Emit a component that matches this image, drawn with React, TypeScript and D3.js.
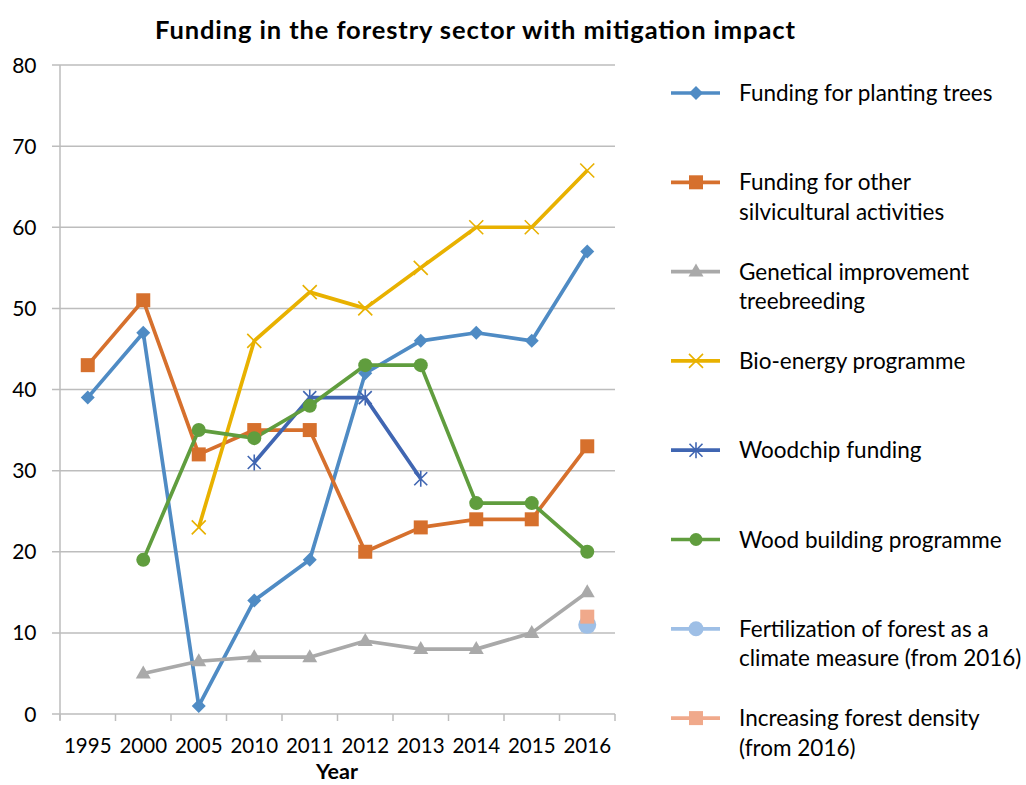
import React from "react";
import * as d3 from "d3";

const years = ["1995", "2000", "2005", "2010", "2011", "2012", "2013", "2014", "2015", "2016"];
const yTicks = [0, 10, 20, 30, 40, 50, 60, 70, 80];

const plantingTrees = [39, 47, 1, 14, 19, 42, 46, 47, 46, 57];
const otherSilvi = [43, 51, 32, 35, 35, 20, 23, 24, 24, 33];
const genetical = [null, 5, 6.5, 7, 7, 9, 8, 8, 10, 15];
const bioEnergy = [null, null, 23, 46, 52, 50, 55, 60, 60, 67];
const woodchip = [null, null, null, 31, 39, 39, 29, null, null, null];
const woodBuilding = [null, 19, 35, 34, 38, 43, 43, 26, 26, 20];
const fertilization = [null, null, null, null, null, null, null, null, null, 11];
const forestDensity = [null, null, null, null, null, null, null, null, null, 12];

type Series = { name: string[]; values: (number | null)[]; color: string; marker: string };

const series: Series[] = [
  { name: ["Funding for planting trees"], values: plantingTrees, color: "#4F8BC4", marker: "diamond" },
  { name: ["Funding for other", "silvicultural activities"], values: otherSilvi, color: "#D6702D", marker: "square" },
  { name: ["Genetical improvement", "treebreeding"], values: genetical, color: "#A9A9A9", marker: "triangle" },
  { name: ["Bio-energy programme"], values: bioEnergy, color: "#E8B100", marker: "x" },
  { name: ["Woodchip funding"], values: woodchip, color: "#4066B2", marker: "star" },
  { name: ["Wood building programme"], values: woodBuilding, color: "#609D3E", marker: "circle" },
  { name: ["Fertilization of forest as a", "climate measure (from 2016)"], values: fertilization, color: "#9EBFE6", marker: "bigcircle" },
  { name: ["Increasing forest density", "(from 2016)"], values: forestDensity, color: "#F0A98B", marker: "square" },
];

const FONT = "Lato, 'Open Sans', sans-serif";

function Marker({ type, x, y, color, legend }: { type: string; x: number; y: number; color: string; legend?: boolean }) {
  switch (type) {
    case "diamond":
      return <path d={`M${x},${y - 7}L${x + 7},${y}L${x},${y + 7}L${x - 7},${y}Z`} fill={color} />;
    case "square":
      return <rect x={x - 7} y={y - 7} width={14} height={14} fill={color} />;
    case "triangle":
      return <path d={`M${x},${y - 8}L${x + 7.5},${y + 5}L${x - 7.5},${y + 5}Z`} fill={color} />;
    case "x":
      return (
        <path d={`M${x - 7},${y - 7}L${x + 7},${y + 7}M${x + 7},${y - 7}L${x - 7},${y + 7}`} stroke={color} strokeWidth={1.6} fill="none" />
      );
    case "star":
      return (
        <path
          d={`M${x - 6.5},${y - 6.5}L${x + 6.5},${y + 6.5}M${x + 6.5},${y - 6.5}L${x - 6.5},${y + 6.5}M${x},${y - 8}L${x},${y + 8}`}
          stroke={color}
          strokeWidth={1.6}
          fill="none"
        />
      );
    case "circle":
      return <circle cx={x} cy={y} r={legend ? 6.5 : 7} fill={color} />;
    case "bigcircle":
      return <circle cx={x} cy={y} r={legend ? 7.5 : 9} fill={color} />;
    default:
      return null;
  }
}

export default function App() {
  const W = 1026;
  const H = 785;
  const left = 60;
  const right = 615;
  const top = 65;
  const bottom = 714;

  const x = d3.scaleBand<string>().domain(years).range([left, right]).padding(0);
  const y = d3.scaleLinear().domain([0, 80]).range([bottom, top]);
  const cx = (i: number) => (x(years[i]) as number) + x.bandwidth() / 2;

  const line = d3
    .line<number | null>()
    .defined((d) => d !== null)
    .x((_, i) => cx(i))
    .y((d) => y(d as number));

  const boundaries = years.map((yr) => x(yr) as number).concat([right]);

  const legendX = 671;
  const legendY0 = 93;
  const legendStep = 89.3;

  return (
    <svg width={W} height={H} style={{ position: "absolute", left: 0, top: 0, background: "#fff" }} fontFamily={FONT}>
      <rect width={W} height={H} fill="#fff" />
      <text x={155} y={38.5} fontWeight="bold" fontSize={25.5} fill="#000" textLength={640} lengthAdjust="spacing">
        Funding in the forestry sector with mitigation impact
      </text>
      {/* gridlines */}
      {yTicks.map((t) => (
        <line key={t} x1={left - 8} x2={right} y1={y(t)} y2={y(t)} stroke="#BDBDBD" strokeWidth={1.5} />
      ))}
      {/* y axis */}
      <line x1={left} x2={left} y1={top} y2={bottom + 6} stroke="#BDBDBD" strokeWidth={1.5} />
      {boundaries.map((b, i) => (
        <line key={i} x1={b} x2={b} y1={bottom} y2={bottom + 7} stroke="#BDBDBD" strokeWidth={1.5} />
      ))}
      {yTicks.map((t) => (
        <text key={t} x={36.5} y={y(t) + 7.5} textAnchor="end" fontSize={21} fill="#000">
          {t}
        </text>
      ))}
      {years.map((yr, i) => (
        <text key={yr} x={cx(i)} y={753} textAnchor="middle" fontSize={20.5} fill="#000">
          {yr}
        </text>
      ))}
      <text x={337} y={779} textAnchor="middle" fontWeight="bold" fontSize={21.5} fill="#000">
        Year
      </text>
      {/* lines */}
      {series.map((s, si) => (
        <path key={si} d={line(s.values) || ""} fill="none" stroke={s.color} strokeWidth={3.7} strokeLinejoin="round" />
      ))}
      {series.map((s, si) =>
        s.values.map((v, i) =>
          v === null ? null : <Marker key={`${si}-${i}`} type={s.marker} x={cx(i)} y={y(v)} color={s.color} />
        )
      )}
      {/* legend */}
      {series.map((s, si) => {
        const ly = legendY0 + si * legendStep;
        return (
          <g key={si}>
            <line x1={legendX} x2={legendX + 49} y1={ly} y2={ly} stroke={s.color} strokeWidth={3.7} />
            <Marker type={s.marker} x={legendX + 25} y={ly} color={s.color} legend />
            {s.name.map((n, li) => (
              <text key={li} x={739} y={ly + 8 + li * 29.5} fontSize={22.5} fill="#000">
                {n}
              </text>
            ))}
          </g>
        );
      })}
    </svg>
  );
}
